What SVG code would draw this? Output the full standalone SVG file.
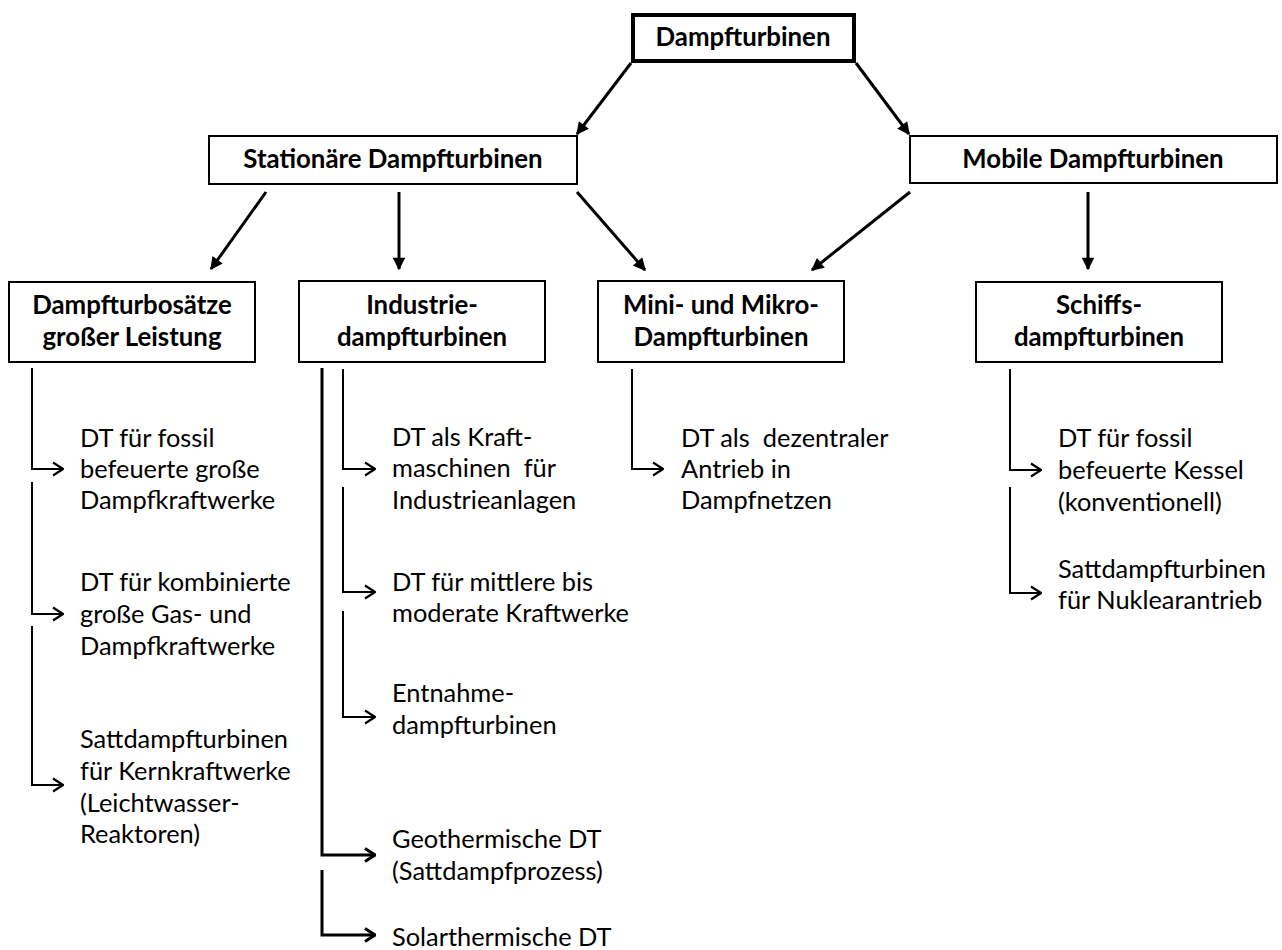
<svg xmlns="http://www.w3.org/2000/svg" width="1282" height="950" viewBox="0 0 1282 950">
<style>
.bg{fill:#fff}
.box{fill:#fff;stroke:#000;stroke-width:2}
.top{fill:#fff;stroke:#000;stroke-width:4}
.h{font-family:Lato,"Liberation Sans",sans-serif;font-weight:bold;font-size:25.8px;fill:#000;text-anchor:middle}
.t{font-family:Lato,"Liberation Sans",sans-serif;font-size:25.4px;fill:#000;white-space:pre}
.main{stroke:#000;stroke-width:3;fill:none;marker-end:url(#tri)}
.br{stroke:#000;stroke-width:2;fill:none;marker-end:url(#chev)}
.brk{stroke:#000;stroke-width:3;fill:none;marker-end:url(#chevk)}
</style>
<defs>
<marker id="tri" viewBox="0 0 10 10" refX="9" refY="5" markerWidth="4.8" markerHeight="4.2" markerUnits="strokeWidth" orient="auto"><path d="M0,0 L10,5 L0,10 z" fill="#000"/></marker>
<marker id="chev" viewBox="0 0 12 16" refX="11" refY="8" markerWidth="12" markerHeight="16" markerUnits="userSpaceOnUse" orient="auto"><path d="M1,1.5 L11,8 L1,14.5" fill="none" stroke="#000" stroke-width="2.2"/></marker>
<marker id="chevk" viewBox="0 0 12 16" refX="11" refY="8" markerWidth="12" markerHeight="16" markerUnits="userSpaceOnUse" orient="auto"><path d="M1,1.5 L11,8 L1,14.5" fill="none" stroke="#000" stroke-width="3"/></marker>
</defs>
<rect class="bg" x="0" y="0" width="1282" height="950"/>

<g id="connectors">
<path class="main" d="M631,63 L577,134"/>
<path class="main" d="M856,63 L909,134"/>
<path class="main" d="M266,192 L211,269"/>
<path class="main" d="M399,192 L399,269"/>
<path class="main" d="M577,192 L645,270"/>
<path class="main" d="M910,192 L812,270"/>
<path class="main" d="M1088,192 L1088,269"/>
<path class="br" d="M32,368 L32,469 L63,469"/>
<path class="br" d="M32,482 L32,614 L63,614"/>
<path class="br" d="M32,626 L32,785 L63,785"/>
<path class="br" d="M343,369 L343,469 L375,469"/>
<path class="br" d="M343,487 L343,592 L375,592"/>
<path class="br" d="M343,611 L343,717 L375,717"/>
<path class="brk" d="M322,368 L322,855 L375,855"/>
<path class="brk" d="M322,870 L322,935 L375,935"/>
<path class="br" d="M632,369 L632,469 L663,469"/>
<path class="br" d="M1010,369 L1010,470 L1041,470"/>
<path class="br" d="M1010,487 L1010,593 L1041,593"/>
</g>

<g id="n-dampfturbinen"><rect class="top" x="633" y="15" width="221" height="46"/><text class="h" x="743" y="46">Dampfturbinen</text></g>
<g id="n-stationaer"><rect class="box" x="209" y="136" width="368" height="48"/><text class="h" x="393" y="168">Stationäre Dampfturbinen</text></g>
<g id="n-mobile"><rect class="box" x="910" y="136" width="367" height="47"/><text class="h" x="1093" y="168">Mobile Dampfturbinen</text></g>
<g id="n-grosse"><rect class="box" x="9" y="282" width="246" height="80"/><text class="h" x="132" y="314">Dampfturbosätze</text><text class="h" x="132" y="346">großer Leistung</text></g>
<g id="n-industrie"><rect class="box" x="299" y="281" width="246" height="81"/><text class="h" x="422" y="314">Industrie-</text><text class="h" x="422" y="346">dampfturbinen</text></g>
<g id="n-mini"><rect class="box" x="598" y="281" width="246" height="81"/><text class="h" x="721" y="314">Mini- und Mikro-</text><text class="h" x="721" y="346">Dampfturbinen</text></g>
<g id="n-schiff"><rect class="box" x="976" y="282" width="246" height="80"/><text class="h" x="1099" y="314">Schiffs-</text><text class="h" x="1099" y="346">dampfturbinen</text></g>

<g id="n-l1"><text class="t" x="80" y="447">DT für fossil</text><text class="t" x="80" y="478">befeuerte große</text><text class="t" x="80" y="509">Dampfkraftwerke</text></g>
<g id="n-l2"><text class="t" x="80" y="591">DT für kombinierte</text><text class="t" x="80" y="623">große Gas- und</text><text class="t" x="80" y="655">Dampfkraftwerke</text></g>
<g id="n-l3"><text class="t" x="80" y="748">Sattdampfturbinen</text><text class="t" x="80" y="780">für Kernkraftwerke</text><text class="t" x="80" y="812">(Leichtwasser-</text><text class="t" x="80" y="843">Reaktoren)</text></g>

<g id="n-i1"><text class="t" x="392" y="446">DT als Kraft-</text><text class="t" x="392" y="477" xml:space="preserve">maschinen  für</text><text class="t" x="392" y="509">Industrieanlagen</text></g>
<g id="n-i2"><text class="t" x="392" y="591">DT für mittlere bis</text><text class="t" x="392" y="622">moderate Kraftwerke</text></g>
<g id="n-i3"><text class="t" x="392" y="702">Entnahme-</text><text class="t" x="392" y="734">dampfturbinen</text></g>
<g id="n-i4"><text class="t" x="392" y="848">Geothermische DT</text><text class="t" x="392" y="880">(Sattdampfprozess)</text></g>
<g id="n-i5"><text class="t" x="392" y="946">Solarthermische DT</text></g>

<g id="n-m1"><text class="t" x="681" y="447" xml:space="preserve">DT als  dezentraler</text><text class="t" x="681" y="478">Antrieb in</text><text class="t" x="681" y="509">Dampfnetzen</text></g>

<g id="n-s1"><text class="t" x="1058" y="447">DT für fossil</text><text class="t" x="1058" y="479">befeuerte Kessel</text><text class="t" x="1058" y="511">(konventionell)</text></g>
<g id="n-s2"><text class="t" x="1058" y="578">Sattdampfturbinen</text><text class="t" x="1058" y="609">für Nuklearantrieb</text></g>
</svg>
